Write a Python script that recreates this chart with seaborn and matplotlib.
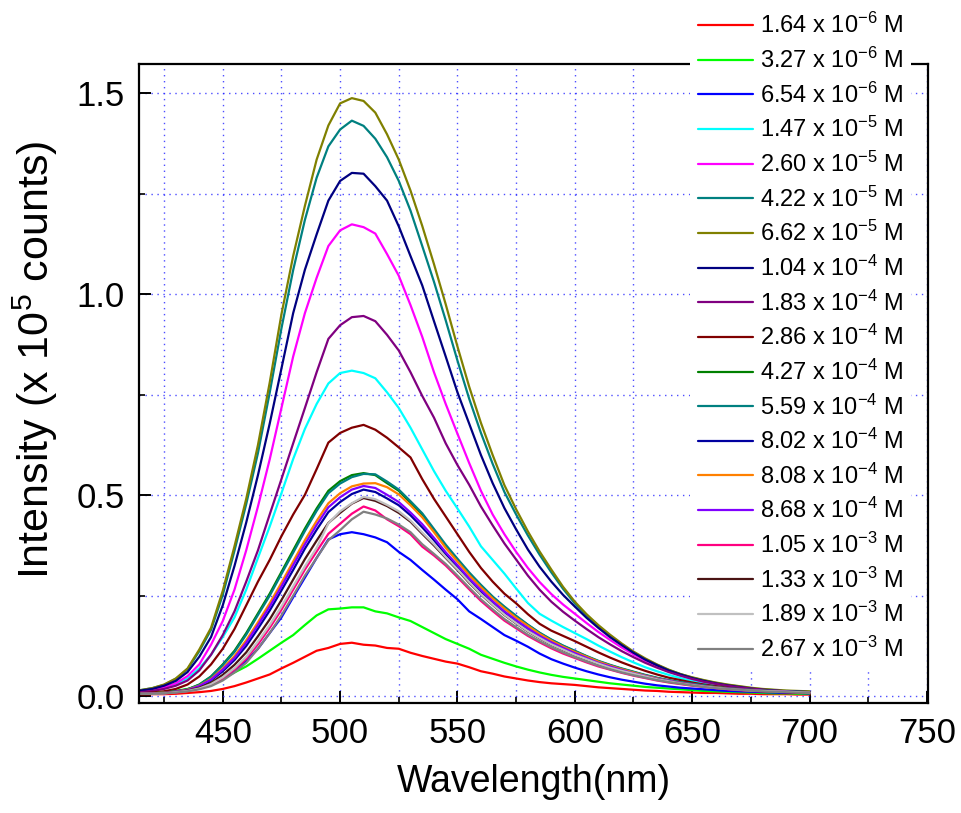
import matplotlib
matplotlib.use("Agg")
import matplotlib.pyplot as plt
from matplotlib.ticker import MultipleLocator, FormatStrFormatter
import pandas as pd
import seaborn as sns

# Emission wavelengths (nm), 5 nm steps
wavelength = list(range(415, 701, 5))

# Concentration labels and line colours
labels = [
    "1.64 x 10$^{-6}$ M", "3.27 x 10$^{-6}$ M", "6.54 x 10$^{-6}$ M",
    "1.47 x 10$^{-5}$ M", "2.60 x 10$^{-5}$ M", "4.22 x 10$^{-5}$ M",
    "6.62 x 10$^{-5}$ M", "1.04 x 10$^{-4}$ M", "1.83 x 10$^{-4}$ M",
    "2.86 x 10$^{-4}$ M", "4.27 x 10$^{-4}$ M", "5.59 x 10$^{-4}$ M",
    "8.02 x 10$^{-4}$ M", "8.08 x 10$^{-4}$ M", "8.68 x 10$^{-4}$ M",
    "1.05 x 10$^{-3}$ M", "1.33 x 10$^{-3}$ M", "1.89 x 10$^{-3}$ M",
    "2.67 x 10$^{-3}$ M",
]
colors = [
    "#FF0000", "#00FF00", "#0000FF", "#00FFFF", "#FF00FF", "#008080",
    "#808000", "#000080", "#800080", "#800000", "#008000", "#008080",
    "#0000A0", "#FF8000", "#8000FF", "#FF0080", "#4A1414", "#C0C0C0",
    "#808080",
]

# Intensities (x 10^5 counts) for each concentration
i_1_64e_6 = [0.005, 0.005, 0.005, 0.006, 0.008, 0.010, 0.013, 0.018, 0.025, 0.034,
             0.044, 0.054, 0.069, 0.083, 0.098, 0.113, 0.120, 0.130, 0.133, 0.128,
             0.126, 0.120, 0.118, 0.108, 0.100, 0.093, 0.086, 0.081, 0.072, 0.062,
             0.056, 0.049, 0.044, 0.039, 0.035, 0.032, 0.030, 0.028, 0.025, 0.022,
             0.020, 0.018, 0.016, 0.014, 0.013, 0.011, 0.010, 0.009, 0.008, 0.008,
             0.007, 0.006, 0.006, 0.005, 0.005, 0.005, 0.004, 0.004]
i_3_27e_6 = [0.007, 0.008, 0.010, 0.013, 0.018, 0.025, 0.034, 0.044, 0.059, 0.074,
             0.093, 0.113, 0.133, 0.152, 0.177, 0.201, 0.216, 0.218, 0.221, 0.221,
             0.211, 0.206, 0.196, 0.187, 0.172, 0.157, 0.142, 0.130, 0.118, 0.103,
             0.093, 0.083, 0.074, 0.066, 0.059, 0.053, 0.048, 0.044, 0.040, 0.036,
             0.032, 0.029, 0.026, 0.023, 0.021, 0.019, 0.017, 0.015, 0.013, 0.012,
             0.011, 0.010, 0.009, 0.008, 0.007, 0.007, 0.006, 0.006]
i_6_54e_6 = [0.007, 0.008, 0.009, 0.011, 0.015, 0.021, 0.030, 0.044, 0.064, 0.088,
             0.118, 0.157, 0.196, 0.246, 0.295, 0.344, 0.390, 0.403, 0.408, 0.403,
             0.395, 0.383, 0.359, 0.339, 0.314, 0.290, 0.265, 0.241, 0.211, 0.192,
             0.172, 0.152, 0.138, 0.123, 0.106, 0.092, 0.081, 0.071, 0.062, 0.054,
             0.047, 0.041, 0.036, 0.031, 0.027, 0.024, 0.021, 0.019, 0.017, 0.015,
             0.013, 0.012, 0.011, 0.010, 0.009, 0.008, 0.008, 0.007]
i_1_47e_5 = [0.013, 0.016, 0.022, 0.030, 0.044, 0.069, 0.103, 0.147, 0.196, 0.265,
             0.344, 0.422, 0.505, 0.590, 0.665, 0.727, 0.778, 0.804, 0.810, 0.804,
             0.791, 0.756, 0.717, 0.668, 0.614, 0.560, 0.511, 0.467, 0.422, 0.373,
             0.339, 0.305, 0.268, 0.232, 0.205, 0.188, 0.172, 0.157, 0.142, 0.126,
             0.111, 0.097, 0.084, 0.072, 0.062, 0.053, 0.045, 0.038, 0.033, 0.028,
             0.024, 0.020, 0.017, 0.015, 0.013, 0.011, 0.010, 0.009]
i_2_60e_5 = [0.013, 0.016, 0.022, 0.032, 0.050, 0.079, 0.128, 0.187, 0.265, 0.363,
             0.472, 0.589, 0.717, 0.845, 0.953, 1.041, 1.120, 1.159, 1.174, 1.167,
             1.151, 1.100, 1.046, 0.973, 0.894, 0.806, 0.727, 0.653, 0.580, 0.511,
             0.452, 0.403, 0.359, 0.319, 0.284, 0.254, 0.228, 0.205, 0.182, 0.160,
             0.140, 0.121, 0.104, 0.088, 0.074, 0.062, 0.052, 0.043, 0.036, 0.031,
             0.026, 0.022, 0.019, 0.016, 0.014, 0.012, 0.011, 0.010]
i_4_22e_5 = [0.015, 0.020, 0.028, 0.043, 0.067, 0.112, 0.165, 0.252, 0.362, 0.478,
             0.605, 0.755, 0.915, 1.060, 1.185, 1.290, 1.368, 1.410, 1.432, 1.419,
             1.387, 1.341, 1.282, 1.208, 1.120, 1.031, 0.935, 0.835, 0.740, 0.655,
             0.578, 0.508, 0.452, 0.400, 0.352, 0.308, 0.267, 0.231, 0.201, 0.174,
             0.150, 0.129, 0.109, 0.092, 0.078, 0.065, 0.055, 0.046, 0.039, 0.033,
             0.028, 0.024, 0.020, 0.017, 0.015, 0.013, 0.012, 0.011]
i_6_62e_5 = [0.015, 0.020, 0.029, 0.044, 0.069, 0.116, 0.170, 0.262, 0.373, 0.491,
             0.625, 0.780, 0.950, 1.095, 1.220, 1.335, 1.420, 1.475, 1.488, 1.481,
             1.452, 1.398, 1.335, 1.258, 1.170, 1.075, 0.975, 0.870, 0.770, 0.680,
             0.600, 0.525, 0.465, 0.410, 0.360, 0.315, 0.272, 0.235, 0.204, 0.177,
             0.153, 0.131, 0.111, 0.094, 0.079, 0.066, 0.055, 0.047, 0.040, 0.034,
             0.029, 0.025, 0.021, 0.018, 0.016, 0.014, 0.013, 0.012]
i_1_04e_4 = [0.014, 0.018, 0.026, 0.038, 0.060, 0.098, 0.147, 0.226, 0.324, 0.432,
             0.550, 0.678, 0.815, 0.953, 1.061, 1.149, 1.233, 1.282, 1.302, 1.300,
             1.269, 1.233, 1.169, 1.095, 1.022, 0.933, 0.845, 0.756, 0.678, 0.600,
             0.530, 0.468, 0.415, 0.365, 0.322, 0.285, 0.252, 0.223, 0.195, 0.170,
             0.147, 0.127, 0.108, 0.091, 0.077, 0.064, 0.054, 0.045, 0.038, 0.032,
             0.027, 0.023, 0.019, 0.016, 0.014, 0.012, 0.011, 0.010]
i_1_83e_4 = [0.010, 0.013, 0.018, 0.026, 0.039, 0.064, 0.103, 0.152, 0.211, 0.285,
             0.363, 0.452, 0.540, 0.629, 0.717, 0.806, 0.889, 0.923, 0.943, 0.946,
             0.933, 0.899, 0.860, 0.806, 0.747, 0.693, 0.629, 0.575, 0.526, 0.472,
             0.425, 0.380, 0.340, 0.300, 0.265, 0.235, 0.210, 0.188, 0.167, 0.147,
             0.129, 0.112, 0.097, 0.083, 0.071, 0.060, 0.051, 0.043, 0.036, 0.031,
             0.026, 0.022, 0.019, 0.016, 0.014, 0.012, 0.011, 0.010]
i_2_86e_4 = [0.007, 0.009, 0.012, 0.018, 0.029, 0.049, 0.079, 0.118, 0.167, 0.226,
             0.285, 0.339, 0.398, 0.452, 0.501, 0.565, 0.631, 0.655, 0.668, 0.675,
             0.663, 0.643, 0.619, 0.594, 0.540, 0.491, 0.447, 0.403, 0.359, 0.319,
             0.285, 0.255, 0.231, 0.204, 0.180, 0.163, 0.150, 0.137, 0.123, 0.109,
             0.096, 0.084, 0.073, 0.063, 0.054, 0.046, 0.040, 0.034, 0.029, 0.025,
             0.021, 0.018, 0.016, 0.014, 0.012, 0.011, 0.010, 0.009]
i_4_27e_4 = [0.006, 0.007, 0.009, 0.012, 0.017, 0.029, 0.049, 0.079, 0.113, 0.157,
             0.206, 0.255, 0.309, 0.363, 0.417, 0.467, 0.511, 0.535, 0.550, 0.555,
             0.550, 0.530, 0.511, 0.481, 0.452, 0.413, 0.373, 0.339, 0.305, 0.275,
             0.246, 0.221, 0.198, 0.177, 0.157, 0.140, 0.125, 0.112, 0.099, 0.087,
             0.077, 0.068, 0.060, 0.052, 0.045, 0.039, 0.034, 0.030, 0.026, 0.022,
             0.019, 0.017, 0.015, 0.013, 0.012, 0.011, 0.010, 0.009]
i_5_59e_4 = [0.006, 0.007, 0.009, 0.012, 0.017, 0.028, 0.048, 0.077, 0.110, 0.153,
             0.202, 0.250, 0.304, 0.357, 0.411, 0.461, 0.505, 0.529, 0.545, 0.553,
             0.552, 0.534, 0.514, 0.485, 0.455, 0.416, 0.377, 0.342, 0.308, 0.277,
             0.248, 0.223, 0.200, 0.178, 0.158, 0.141, 0.126, 0.113, 0.100, 0.088,
             0.078, 0.069, 0.061, 0.053, 0.046, 0.040, 0.035, 0.031, 0.027, 0.023,
             0.020, 0.018, 0.016, 0.014, 0.013, 0.012, 0.011, 0.010]
i_8_02e_4 = [0.006, 0.007, 0.008, 0.011, 0.015, 0.024, 0.039, 0.062, 0.090, 0.125,
             0.168, 0.213, 0.263, 0.314, 0.367, 0.414, 0.458, 0.483, 0.503, 0.514,
             0.508, 0.492, 0.475, 0.450, 0.420, 0.388, 0.354, 0.322, 0.290, 0.260,
             0.233, 0.209, 0.187, 0.167, 0.148, 0.132, 0.118, 0.106, 0.093, 0.082,
             0.073, 0.064, 0.057, 0.049, 0.043, 0.037, 0.033, 0.029, 0.025, 0.021,
             0.019, 0.017, 0.015, 0.013, 0.012, 0.011, 0.010, 0.009]
i_8_08e_4 = [0.006, 0.007, 0.009, 0.011, 0.016, 0.026, 0.043, 0.069, 0.100, 0.139,
             0.184, 0.231, 0.282, 0.335, 0.388, 0.436, 0.480, 0.505, 0.522, 0.529,
             0.530, 0.520, 0.502, 0.475, 0.445, 0.408, 0.369, 0.335, 0.301, 0.271,
             0.243, 0.218, 0.195, 0.175, 0.155, 0.138, 0.123, 0.110, 0.098, 0.086,
             0.076, 0.067, 0.059, 0.051, 0.044, 0.038, 0.033, 0.029, 0.025, 0.022,
             0.019, 0.017, 0.015, 0.013, 0.012, 0.011, 0.010, 0.009]
i_8_68e_4 = [0.006, 0.007, 0.008, 0.011, 0.015, 0.025, 0.041, 0.066, 0.095, 0.133,
             0.177, 0.223, 0.273, 0.326, 0.378, 0.426, 0.470, 0.495, 0.514, 0.523,
             0.518, 0.501, 0.483, 0.457, 0.428, 0.394, 0.358, 0.326, 0.293, 0.264,
             0.236, 0.211, 0.189, 0.169, 0.150, 0.134, 0.120, 0.107, 0.095, 0.083,
             0.074, 0.065, 0.057, 0.050, 0.043, 0.038, 0.033, 0.029, 0.025, 0.021,
             0.019, 0.017, 0.015, 0.013, 0.012, 0.011, 0.010, 0.009]
i_1_05e_3 = [0.006, 0.006, 0.007, 0.009, 0.013, 0.019, 0.028, 0.044, 0.066, 0.093,
             0.129, 0.170, 0.215, 0.265, 0.315, 0.360, 0.404, 0.429, 0.454, 0.472,
             0.462, 0.440, 0.423, 0.403, 0.372, 0.350, 0.325, 0.296, 0.266, 0.237,
             0.212, 0.188, 0.169, 0.150, 0.134, 0.119, 0.106, 0.095, 0.084, 0.074,
             0.066, 0.058, 0.051, 0.045, 0.039, 0.034, 0.030, 0.026, 0.023, 0.020,
             0.017, 0.015, 0.013, 0.012, 0.011, 0.010, 0.009, 0.008]
i_1_33e_3 = [0.006, 0.006, 0.008, 0.010, 0.014, 0.021, 0.033, 0.053, 0.078, 0.109,
             0.149, 0.191, 0.239, 0.290, 0.341, 0.387, 0.431, 0.456, 0.479, 0.493,
             0.486, 0.473, 0.456, 0.434, 0.404, 0.375, 0.344, 0.314, 0.282, 0.253,
             0.227, 0.202, 0.181, 0.161, 0.144, 0.128, 0.115, 0.102, 0.091, 0.080,
             0.070, 0.062, 0.055, 0.048, 0.042, 0.036, 0.032, 0.028, 0.024, 0.021,
             0.018, 0.016, 0.014, 0.012, 0.011, 0.010, 0.009, 0.009]
i_1_89e_3 = [0.006, 0.006, 0.007, 0.010, 0.013, 0.019, 0.030, 0.047, 0.070, 0.098,
             0.136, 0.177, 0.223, 0.273, 0.323, 0.369, 0.430, 0.460, 0.480, 0.496,
             0.490, 0.476, 0.460, 0.437, 0.407, 0.378, 0.346, 0.316, 0.284, 0.254,
             0.228, 0.203, 0.182, 0.162, 0.145, 0.129, 0.116, 0.103, 0.092, 0.081,
             0.071, 0.063, 0.056, 0.049, 0.042, 0.037, 0.032, 0.028, 0.024, 0.021,
             0.018, 0.016, 0.014, 0.013, 0.012, 0.011, 0.010, 0.009]
i_2_67e_3 = [0.006, 0.006, 0.007, 0.009, 0.012, 0.017, 0.025, 0.039, 0.059, 0.083,
             0.118, 0.157, 0.201, 0.250, 0.300, 0.344, 0.388, 0.413, 0.440, 0.459,
             0.452, 0.442, 0.427, 0.408, 0.378, 0.354, 0.329, 0.300, 0.270, 0.241,
             0.216, 0.192, 0.172, 0.153, 0.137, 0.122, 0.109, 0.097, 0.086, 0.076,
             0.067, 0.059, 0.052, 0.046, 0.040, 0.035, 0.031, 0.027, 0.023, 0.020,
             0.018, 0.016, 0.014, 0.012, 0.011, 0.010, 0.009, 0.009]

series = [
    i_1_64e_6, i_3_27e_6, i_6_54e_6, i_1_47e_5, i_2_60e_5, i_4_22e_5, i_6_62e_5,
    i_1_04e_4, i_1_83e_4, i_2_86e_4, i_4_27e_4, i_5_59e_4, i_8_02e_4, i_8_08e_4,
    i_8_68e_4, i_1_05e_3, i_1_33e_3, i_1_89e_3, i_2_67e_3,
]

# Long-form table for seaborn
rows = []
for lab, vals in zip(labels, series):
    for wl, v in zip(wavelength, vals):
        rows.append({"Wavelength": wl, "Intensity": v, "Concentration": lab})
df = pd.DataFrame(rows)

sns.set_style("white")
plt.rcParams["font.family"] = ["Liberation Sans", "DejaVu Sans"]
plt.rcParams["mathtext.fontset"] = "custom"
plt.rcParams["mathtext.rm"] = "Liberation Sans"
plt.rcParams["mathtext.it"] = "Liberation Sans:italic"
plt.rcParams["mathtext.bf"] = "Liberation Sans:bold"
for key in ("text.color", "axes.labelcolor", "xtick.color", "ytick.color"):
    plt.rcParams[key] = "black"

fig = plt.figure(figsize=(9.61, 8.13), dpi=100)
ax = fig.add_axes([0.1446, 0.1353, 0.8211, 0.7860])

sns.lineplot(
    data=df, x="Wavelength", y="Intensity", hue="Concentration",
    hue_order=labels, palette=dict(zip(labels, colors)),
    estimator=None, sort=False, linewidth=1.6, legend=False, ax=ax,
)

ax.set_xlim(414.3, 750.5)
ax.set_ylim(-0.017, 1.573)
ax.xaxis.set_major_locator(MultipleLocator(50))
ax.xaxis.set_minor_locator(MultipleLocator(25))
ax.yaxis.set_major_locator(MultipleLocator(0.5))
ax.yaxis.set_minor_locator(MultipleLocator(0.25))
ax.yaxis.set_major_formatter(FormatStrFormatter("%.1f"))

# Dotted blue grid at every major and minor tick
ax.set_axisbelow(True)
ax.grid(which="both", color="#2020FF", linestyle=(0, (1, 3.3)),
        linewidth=1.0, alpha=0.8)

for sp in ax.spines.values():
    sp.set_visible(True)
    sp.set_color("black")
    sp.set_linewidth(1.6)

ax.tick_params(which="major", direction="in", length=8.5, width=1.4,
               labelsize=25, pad=10,
               top=False, right=False, bottom=True, left=True)
ax.tick_params(which="minor", direction="in", length=4.3, width=1.2,
               top=False, right=False, bottom=True, left=True)

ax.set_xlabel("Wavelength(nm)", fontsize=27, labelpad=10)
ax.set_ylabel("Intensity (x 10$^5$ counts)", fontsize=31)
ax.yaxis.set_label_coords(-0.100, 0.537)

# Legend sits in a white box over the top-right corner of the frame
leg = ax.legend(
    ax.lines[:len(labels)], labels,
    loc="upper left", bbox_to_anchor=(0.718, 0.994),
    bbox_transform=fig.transFigure, fontsize=17,
    frameon=True, fancybox=False, framealpha=1.0,
    borderpad=0.35, borderaxespad=0.0, handlelength=2.3,
    handletextpad=0.3, labelspacing=0.40,
)
leg.get_frame().set_facecolor("white")
leg.get_frame().set_edgecolor("none")
leg.set_zorder(10)

fig.savefig("out.png", dpi=100)
